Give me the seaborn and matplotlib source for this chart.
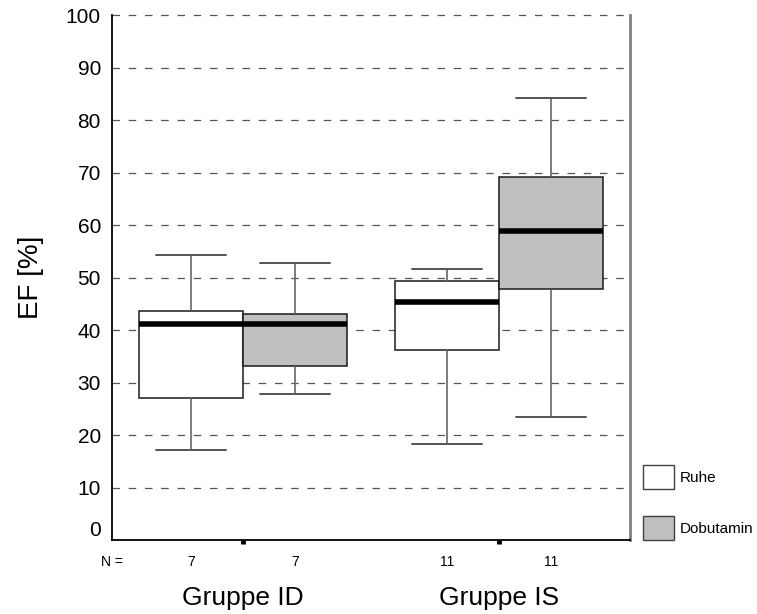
import numpy as np
import pandas as pd
import matplotlib
matplotlib.use("Agg")
import matplotlib.pyplot as plt
import matplotlib.transforms as mtransforms
from matplotlib.patches import Patch
import seaborn as sns

# EF [%] values per group / condition (estimated from the figure)
gruppen = ["Gruppe ID", "Gruppe IS"]
zustaende = ["Ruhe", "Dobutamin"]
id_ruhe = [17.2, 25.0, 29.4, 41.2, 42.4, 45.0, 54.4]
id_dobutamin = [27.9, 31.6, 34.8, 41.2, 42.4, 43.8, 52.8]
is_ruhe = [18.4, 28.0, 35.0, 37.4, 42.0, 45.3, 47.0, 48.6, 50.2, 51.0, 51.7]
is_dobutamin = [23.4, 38.0, 46.4, 49.2, 55.0, 59.0, 63.0, 67.4, 71.0, 75.0, 84.2]
y_ticks = [0, 10, 20, 30, 40, 50, 60, 70, 80, 90, 100]

rows = []
for g, z, vals in [("Gruppe ID", "Ruhe", id_ruhe), ("Gruppe ID", "Dobutamin", id_dobutamin),
                   ("Gruppe IS", "Ruhe", is_ruhe), ("Gruppe IS", "Dobutamin", is_dobutamin)]:
    for v in vals:
        rows.append({"gruppe": g, "zustand": z, "ef": v})
df = pd.DataFrame(rows)

sns.set_style("white")
plt.rcParams["font.family"] = ["Liberation Sans", "DejaVu Sans"]
plt.rcParams["text.color"] = "black"
plt.rcParams["axes.labelcolor"] = "black"
plt.rcParams["xtick.color"] = "black"
plt.rcParams["ytick.color"] = "black"

farben = {"Ruhe": "white", "Dobutamin": "#c0c0c0"}

fig = plt.figure(figsize=(7.57, 6.14), dpi=100)
ax = fig.add_axes([112 / 757, 1 - 540.3 / 614, (630 - 112) / 757, (540.3 - 15.3) / 614])

# dashed reference lines
for t in y_ticks[1:]:
    ax.axhline(t, color="#555555", lw=0.9, ls=(0, (6, 7)), zorder=0, clip_on=False)

sns.boxplot(data=df, x="gruppe", y="ef", hue="zustand", order=gruppen, hue_order=zustaende,
            palette=farben, width=0.81, gap=0, whis=np.inf, showfliers=False,
            linecolor="#1a1a1a", linewidth=1.1, legend=False, ax=ax, capwidths=0.275,
            whiskerprops={"color": "#666666", "linewidth": 1.2},
            capprops={"color": "#555555", "linewidth": 1.4},
            medianprops={"color": "black", "linewidth": 4.0, "solid_capstyle": "butt"},
            boxprops={"zorder": 2})

ax.set_xlim(-0.512, 1.512)
ax.set_ylim(0, 100)
ax.set_yticks(y_ticks)
ax.set_yticklabels([str(t) for t in y_ticks], fontsize=15)
ax.tick_params(axis="y", left=False, length=0, pad=8, labelcolor="black")
# the 0 label sits a little above the axis line
lab0 = ax.get_yticklabels()[0]
lab0.set_transform(lab0.get_transform() + mtransforms.ScaledTranslation(0, 12 / 100, fig.dpi_scale_trans))

ax.set_xticks([0, 1])
ax.set_xticklabels(gruppen, fontsize=19)
ax.tick_params(axis="x", bottom=True, direction="out", length=3, width=3.5, color="black",
               pad=30, labelcolor="black")
ax.set_xlabel("")
ax.set_ylabel("EF [%]", fontsize=20, labelpad=16)

for s in ["left", "bottom"]:
    ax.spines[s].set_color("black")
    ax.spines[s].set_linewidth(1.3)
ax.spines["right"].set_color("#808080")
ax.spines["right"].set_linewidth(2)
ax.spines["top"].set_visible(False)

# N row
trans = mtransforms.blended_transform_factory(ax.transData, ax.transAxes)
n_y = -(562 - 540.3) / 525
ax.text(-0.512, n_y, "N =", transform=trans, ha="center", va="center", fontsize=10)
for i, (a, b) in enumerate([(id_ruhe, id_dobutamin), (is_ruhe, is_dobutamin)]):
    ax.text(i - 0.2025, n_y, str(len(a)), transform=trans, ha="center", va="center", fontsize=10)
    ax.text(i + 0.2025, n_y, str(len(b)), transform=trans, ha="center", va="center", fontsize=10)

handles = [Patch(facecolor=farben[z], edgecolor="#404040", linewidth=1) for z in zustaende]
fig.legend(handles, zustaende, loc="upper left", bbox_to_anchor=(643 / 757, 1 - 465 / 614),
           frameon=False, fontsize=11, handlelength=2.05, handleheight=2.05,
           labelspacing=1.75, handletextpad=0.35, borderpad=0, borderaxespad=0)

fig.savefig("out.png", dpi=100)
